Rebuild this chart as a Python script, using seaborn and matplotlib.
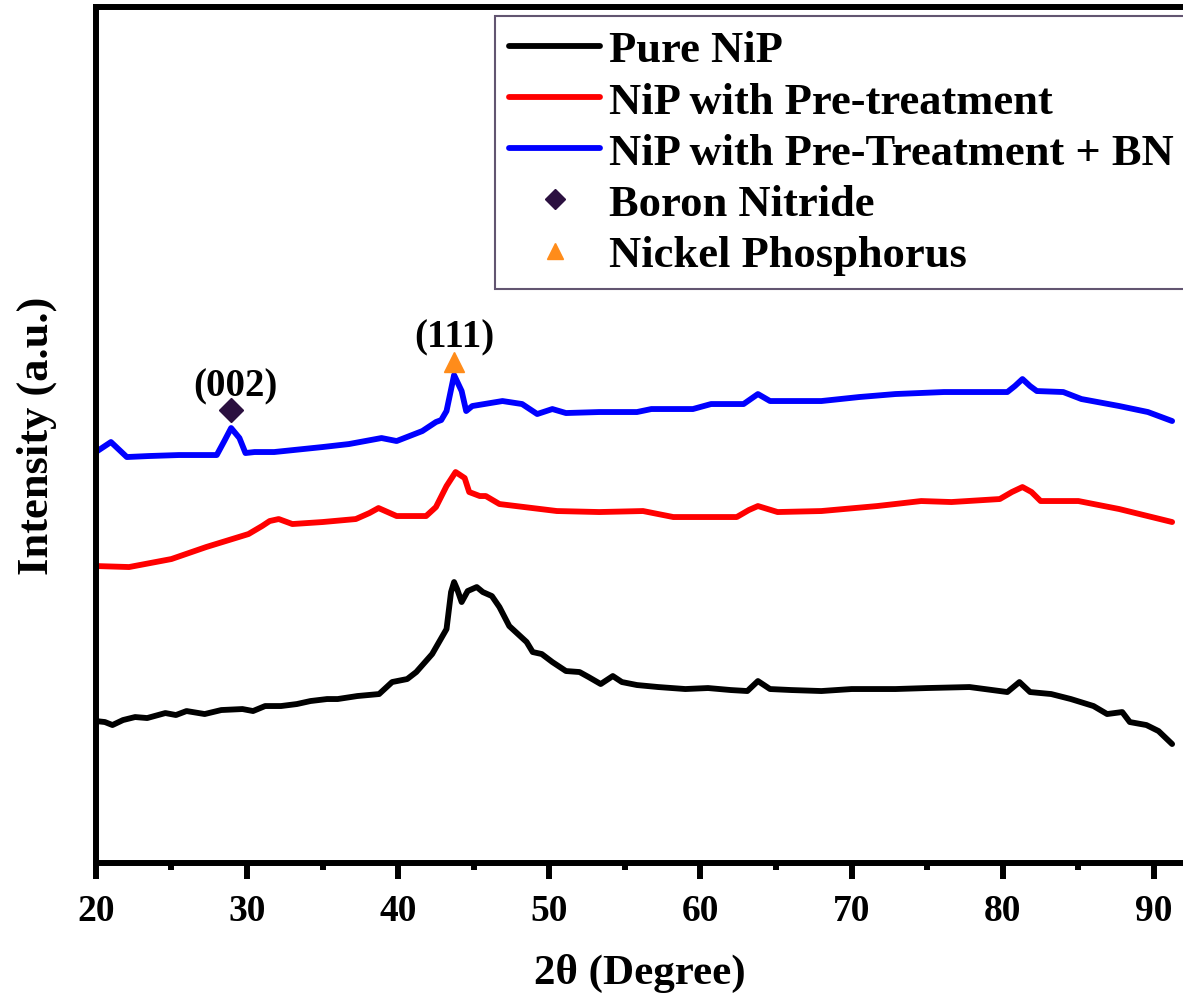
import matplotlib
matplotlib.use("Agg")
import matplotlib.pyplot as plt
from matplotlib.lines import Line2D
from matplotlib.ticker import MultipleLocator
import seaborn as sns
import pandas as pd

sns.set_style("white")
plt.rcParams['font.family'] = ['Liberation Serif', 'DejaVu Serif']
plt.rcParams['font.weight'] = 'bold'
plt.rcParams['text.color'] = 'black'
plt.rcParams['axes.labelcolor'] = 'black'
plt.rcParams['xtick.color'] = 'black'

# 2theta (deg) and intensity (a.u.)
blue_x = [20.0, 21.0, 22.05, 23.5, 25.5, 28.0, 28.5, 28.95, 29.5, 29.9, 30.5, 31.8,
          35.0, 36.75, 38.9, 39.9, 41.6, 42.5, 42.85, 43.2, 43.7, 44.2, 44.5, 44.9,
          46.9, 48.2, 49.2, 50.2, 51.1, 53.3, 55.8, 56.75, 59.5, 60.7, 62.85, 63.8,
          64.6, 68.0, 70.5, 72.9, 76.1, 80.3, 80.8, 81.3, 81.8, 82.25, 84.0, 85.2,
          87.7, 89.6, 91.2]
blue_y = [404, 414, 399, 400, 401, 401, 415, 428, 418, 403, 404, 404,
          409, 412, 418, 415, 425, 434, 436, 445, 481, 465, 445, 450,
          455, 452, 442, 447, 443, 444, 444, 447, 447, 452, 452, 462,
          455, 455, 459, 462, 464, 464, 470, 477, 470, 465, 464, 457,
          450, 444, 435]

red_x = [20.0, 22.2, 25.0, 27.3, 30.1, 31.0, 31.5, 32.1, 33.0, 35.0, 37.2, 38.1,
         38.7, 39.9, 41.85, 42.5, 43.2, 43.8, 44.4, 44.7, 45.4, 45.8, 46.7, 50.5,
         53.3, 56.2, 58.2, 62.4, 63.2, 63.8, 65.1, 68.0, 71.7, 74.6, 76.6, 79.8,
         80.6, 81.3, 81.9, 82.5, 85.0, 87.7, 91.2]
red_y = [290, 289, 297, 309, 322, 330, 335, 337, 332, 334, 337, 343,
         348, 340, 340, 349, 370, 384, 378, 364, 360, 360, 352, 345,
         344, 345, 339, 339, 346, 350, 344, 345, 350, 355, 354, 357,
         364, 369, 364, 355, 355, 347, 334]

black_x = [20.0, 20.6, 21.1, 21.8, 22.6, 23.4, 24.6, 25.3, 26.0, 27.2, 28.3, 29.7,
           30.4, 31.2, 32.25, 33.3, 34.2, 35.3, 36.0, 37.3, 38.74, 39.6, 40.6, 41.2,
           42.25, 43.2, 43.5, 43.7, 43.9, 44.2, 44.6, 45.2, 45.6, 46.2, 46.7, 47.35,
           48.5, 48.9, 49.5, 50.2, 51.1, 52.0, 52.6, 53.4, 54.2, 54.8, 55.8, 57.2,
           59.0, 60.5, 62.0, 63.1, 63.8, 64.6, 66.0, 68.0, 70.0, 72.9, 75.0, 77.8,
           80.3, 81.1, 81.8, 83.2, 84.5, 86.0, 86.9, 87.9, 88.4, 89.5, 90.3, 91.2]
black_y = [135, 134, 131, 136, 139, 138, 143, 141, 145, 142, 146, 147,
           145, 150, 150, 152, 155, 157, 157, 160, 162, 174, 177, 184,
           202, 227, 264, 274, 267, 254, 265, 269, 264, 260, 249, 230,
           214, 204, 202, 194, 185, 184, 179, 172, 180, 174, 171, 169,
           167, 168, 166, 165, 175, 167, 166, 165, 167, 167, 168, 169,
           164, 174, 164, 162, 157, 150, 142, 144, 134, 131, 125, 112]

series = ["Pure NiP", "NiP with Pre-treatment", "NiP with Pre-Treatment + BN"]
colors = ["black", "#ff0000", "#0000ff"]

bn_peak = (28.95, 446)
nip_peak = (43.7, 494)
peak_labels = ["(002)", "(111)"]
label_y = [470, 519]

df = pd.concat([
    pd.DataFrame({"theta": black_x, "I": black_y, "s": series[0]}),
    pd.DataFrame({"theta": red_x, "I": red_y, "s": series[1]}),
    pd.DataFrame({"theta": blue_x, "I": blue_y, "s": series[2]}),
])

fig = plt.figure(figsize=(11.83, 10.04), dpi=100)
ax = fig.add_axes([0.081, 0.1394, 0.919, 0.8526])

sns.lineplot(data=df, x="theta", y="I", hue="s", palette=colors, sort=False,
             estimator=None, linewidth=4.2, legend=False, ax=ax)

ax.plot(*bn_peak, marker="D", color="#2b1040", markersize=12, ls="none")
ax.plot(*nip_peak, marker="^", color="#ff8c1a", markersize=14, ls="none")
ax.text(bn_peak[0] + 0.3, label_y[0], peak_labels[0], ha="center", va="center",
        fontsize=28, fontweight="bold")
ax.text(nip_peak[0], label_y[1], peak_labels[1], ha="center", va="center",
        fontsize=28, fontweight="bold")

ax.set_xlim(20, 91.92)
ax.set_ylim(-7, 849)
ax.set_yticks([])
ax.xaxis.set_major_locator(MultipleLocator(10))
ax.xaxis.set_minor_locator(MultipleLocator(5))
ax.tick_params(axis="x", which="major", direction="out", length=11.5, width=4.3,
               labelsize=27, pad=10, bottom=True)
ax.tick_params(axis="x", which="minor", direction="out", length=5, width=4.3, bottom=True)
for lab in ax.get_xticklabels():
    lab.set_fontweight("bold")

for side in ["left", "bottom", "top"]:
    ax.spines[side].set_linewidth(4.3)
    ax.spines[side].set_color("black")
ax.spines["right"].set_visible(False)

ax.set_xlabel("2θ (Degree)", fontsize=31, fontweight="bold", labelpad=18)
ax.set_ylabel("Intensity (a.u.)", fontsize=32, fontweight="bold", labelpad=28)

handles = [Line2D([], [], color=c, lw=4.2) for c in colors]
handles += [Line2D([], [], marker="D", color="#2b1040", ls="none", markersize=10),
            Line2D([], [], marker="^", color="#ff8c1a", ls="none", markersize=12)]
labels = series + ["Boron Nitride", "Nickel Phosphorus"]
leg = fig.legend(handles, labels, loc="upper left", bbox_to_anchor=(495 / 1183, 1 - 17 / 1004),
                 bbox_transform=fig.transFigure, borderaxespad=0, frameon=True, fancybox=False,
                 prop={"size": 32, "weight": "bold"}, handlelength=2.05, handletextpad=0.2,
                 labelspacing=0.25, borderpad=0.32)
leg.get_frame().set_edgecolor("#3b2b4e")
leg.get_frame().set_linewidth(1.5)

fig.savefig("out.png", dpi=100)
